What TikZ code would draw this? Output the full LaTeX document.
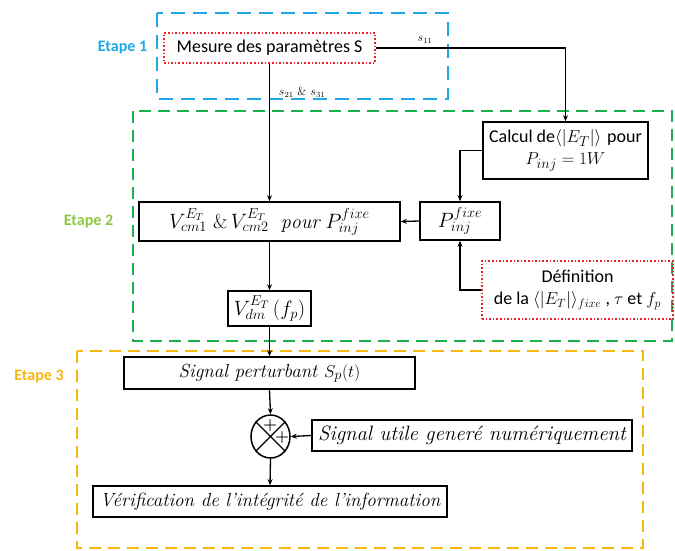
\documentclass[tikz,border=0pt]{standalone}
\usepackage{fontspec}
\newfontfamily\carl{Carlito}
\usetikzlibrary{arrows.meta,shapes.geometric}
\definecolor{cy}{HTML}{1CA9E6}
\definecolor{gr}{HTML}{1DAF4E}
\definecolor{grl}{HTML}{8DC63F}
\definecolor{orc}{HTML}{F8B60F}
\definecolor{rd}{HTML}{E8202A}
\begin{document}
\begin{tikzpicture}[x=1pt,y=-1pt,
  box/.style={draw, line width=1.6pt, rectangle, inner sep=0pt, align=center, font=\fontsize{19}{22}\selectfont},
  redbox/.style={draw=rd, line width=1.6pt, dotted, rectangle, inner sep=0pt, align=center, font=\carl\fontsize{18}{22}\selectfont},
  arr/.style={-{Stealth[length=6pt,width=5pt]}, line width=1.3pt},
  stage/.style={line width=2.4pt, dash pattern=on 12pt off 7pt},
  lab/.style={font=\carl\bfseries\fontsize{16}{18}\selectfont},
  plus/.style={font=\bfseries\fontsize{16}{16}\selectfont, inner sep=0pt}]
\useasboundingbox (0,0) rectangle (675,550);
% stage frames
\draw[stage, cy, dash pattern=on 14pt off 8pt] (157,13) rectangle (448,99);
\draw[stage, gr] (133,111) rectangle (672,341);
\draw[stage, orc] (77,351) rectangle (643,548);
\node[lab, cy] (e1) at (122.5,48) {Etape 1};
\node[lab, grl] (e2) at (88.5,222) {Etape 2};
\node[lab, orc] (e3) at (39,377) {Etape 3};
% nodes
\node[redbox, minimum width=211pt, minimum height=30pt] (mes) at (269.5,48) {Mesure des paramètres S};
\node[box, minimum width=165pt, minimum height=57pt] (cal) at (565.5,150.5) {{\carl\fontsize{18}{22}\selectfont Calcul de}$\langle|E_T|\rangle$ {\carl\fontsize{18}{22}\selectfont pour}\\ $P_{inj}=1W$};
\node[box, minimum width=261pt, minimum height=39pt, font=\fontsize{20}{22}\selectfont] (vcm) at (269.5,221.5) {$V_{cm1}^{E_T}\ \&\, V_{cm2}^{E_T}\ \ \mathit{pour}\ P_{inj}^{fixe}$};
\node[box, minimum width=80pt, minimum height=38pt, font=\fontsize{20}{22}\selectfont] (pin) at (460,221) {$P_{inj}^{fixe}$};
\node[redbox, minimum width=191pt, minimum height=58pt] (def) at (577.5,290) {Définition\\ de la $\langle|E_T|\rangle_{fixe}$ , $\tau$ et $f_p$};
\node[box, minimum width=83pt, minimum height=35pt, font=\fontsize{21}{22}\selectfont] (vdm) at (269.5,308.5) {$V_{dm}^{E_T}\,(f_p)$};
\node[box, minimum width=291pt, minimum height=32pt] (sp) at (269.5,373) {\itshape Signal perturbant $S_p(t)$};
\node[draw, ellipse, line width=1.5pt, minimum width=39pt, minimum height=43pt, inner sep=0pt] (sum) at (270.5,436.5) {};
\draw[line width=1.3pt] (sum.135) -- (sum.-45) (sum.45) -- (sum.-135);
\node[plus] (p1) at (270,425) {+};
\node[plus] (p2) at (282,437.5) {+};
\node[box, minimum width=320pt, minimum height=31pt, font=\fontsize{20.8}{22}\selectfont] (su) at (472,435.5) {\itshape Signal utile generé numériquement};
\node[box, minimum width=354pt, minimum height=31pt] (ver) at (270,501.5) {\itshape Vérification de l'intégrité de l'information};
% labels
\node[font=\fontsize{12}{14}\selectfont] (s11) at (425,40) {$s_{11}$};
\node[font=\fontsize{12}{14}\selectfont] (s21) at (302,92) {$s_{21}$ \& $s_{31}$};
% connectors
\draw[arr] (mes.east) -| (cal.north);
\draw[arr] (mes.south) -- (vcm.north);
\draw[arr] (cal.west) -| (pin.north);
\draw[arr] (def.west) -| (pin.south);
\draw[arr] (pin.west) -- (vcm.east);
\draw[arr] (vcm.south) -- (vdm.north);
\draw[arr] (vdm.south) -- (sp.north);
\draw[arr] (sp.south) -- (sum.north);
\draw[arr] (su.west) -- (sum.east);
\draw[arr] (sum.south) -- (ver.north);
\end{tikzpicture}
\end{document}
